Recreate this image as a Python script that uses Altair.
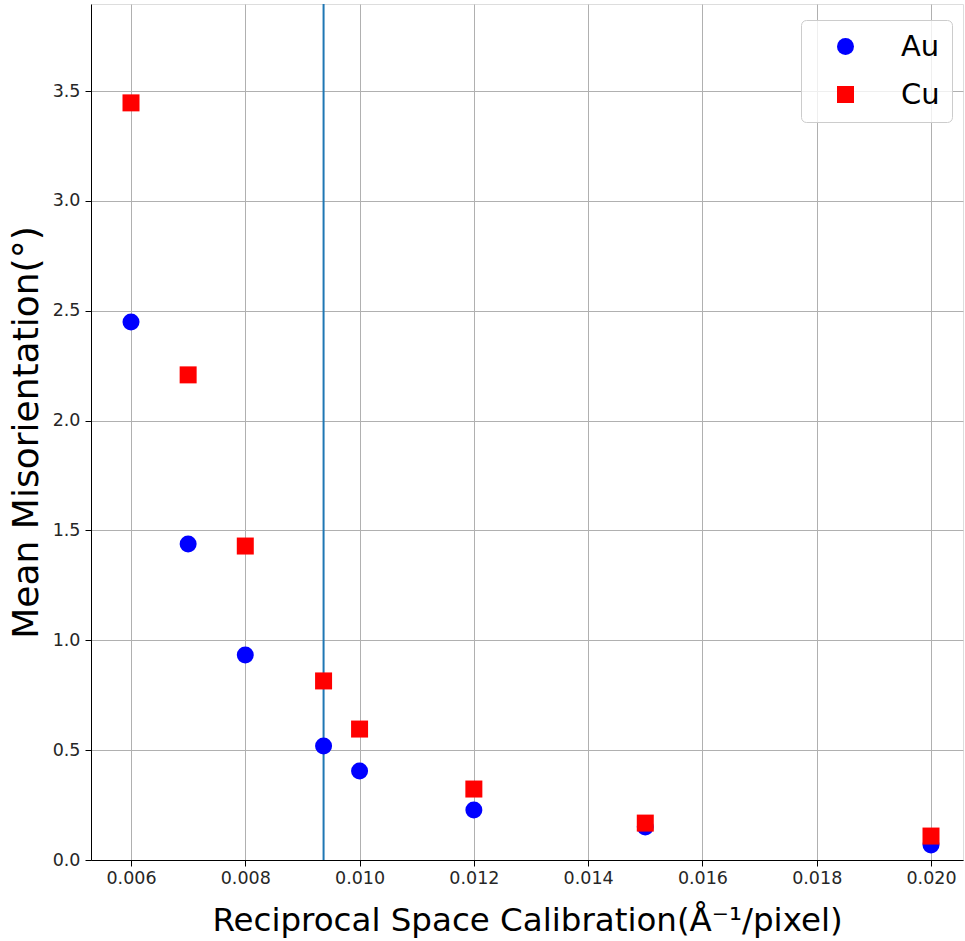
import altair as alt
import pandas as pd

x_vals = [0.006, 0.007, 0.008, 0.00937, 0.010, 0.012, 0.015, 0.020]
au_vals = [2.449, 1.438, 0.933, 0.519, 0.405, 0.228, 0.150, 0.068]
cu_vals = [3.446, 2.208, 1.429, 0.815, 0.596, 0.323, 0.168, 0.109]
vline_x = [0.00937]
x_ticks = [0.006, 0.008, 0.010, 0.012, 0.014, 0.016, 0.018, 0.020]
y_ticks = [0.0, 0.5, 1.0, 1.5, 2.0, 2.5, 3.0, 3.5]

rows = []
for x, a in zip(x_vals, au_vals):
    rows.append({"x": x, "y": a, "metal": "Au"})
for x, c in zip(x_vals, cu_vals):
    rows.append({"x": x, "y": c, "metal": "Cu"})
df = pd.DataFrame(rows)

xscale = alt.Scale(domain=[0.0053, 0.02056], nice=False, zero=False)
yscale = alt.Scale(domain=[0, 3.896], nice=False)

common = dict(grid=True, gridColor="#b0b0b0", gridWidth=1,
              domainColor="black", domainWidth=1, tickColor="black", tickSize=6,
              labelFont="DejaVu Sans", labelFontSize=17.5, labelColor="#262626",
              titleFont="DejaVu Sans", titleFontWeight="normal", titleColor="black")

xaxis = alt.Axis(values=x_ticks, format=".3f", labelPadding=3,
                 title="Reciprocal Space Calibration(Å⁻¹/pixel)",
                 titleFontSize=32.5, titlePadding=18, **common)
yaxis = alt.Axis(values=y_ticks, format=".1f", labelPadding=5,
                 title="Mean Misorientation(°)",
                 titleFontSize=36, titlePadding=7, **common)

points = alt.Chart(df).mark_point(filled=True, opacity=1, size=289).encode(
    x=alt.X("x:Q", scale=xscale, axis=xaxis),
    y=alt.Y("y:Q", scale=yscale, axis=yaxis),
    color=alt.Color("metal:N", scale=alt.Scale(domain=["Au", "Cu"], range=["#0000ff", "#ff0000"]),
                    legend=alt.Legend(title=None, orient="none", legendX=710, legendY=16,
                                      labelFont="DejaVu Sans", labelFontSize=29, labelColor="black",
                                      symbolSize=289, symbolOffset=18, labelOffset=41,
                                      rowPadding=18, padding=12,
                                      fillColor="rgba(255,255,255,0.8)",
                                      strokeColor="#cccccc", cornerRadius=5,
                                      symbolStrokeWidth=0)),
    shape=alt.Shape("metal:N", scale=alt.Scale(domain=["Au", "Cu"], range=["circle", "square"]),
                    legend=None),
)

vline = alt.Chart(pd.DataFrame({"x": vline_x})).mark_rule(color="#1f77b4", strokeWidth=2).encode(
    x=alt.X("x:Q", scale=xscale)
)

chart = alt.layer(vline, points).properties(
    width=872, height=856,
    autosize=alt.AutoSizeParams(type="none"),
    padding={"left": 91, "top": 4, "right": 2, "bottom": 81},
).configure_view(stroke="black", strokeWidth=1).configure(background="white")

chart.save("out.html", embed_options={"renderer": "svg", "actions": False})
